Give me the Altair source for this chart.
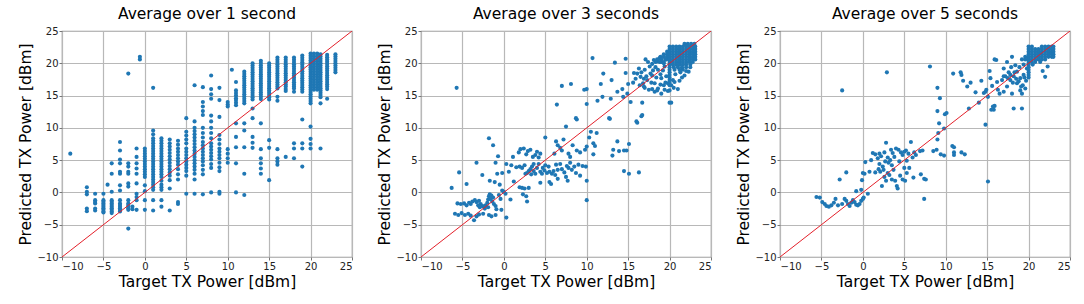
import altair as alt
import pandas as pd

TICKS = [-10, -5, 0, 5, 10, 15, 20, 25]
TITLES = ["Average over 1 second", "Average over 3 seconds", "Average over 5 seconds"]
X_TITLE = "Target TX Power [dBm]"
Y_TITLE = "Predicted TX Power [dBm]"

# Panel 1: predictions grouped by integer target power (x: list of y)
p1_columns = {
    -9: [6.0],
    -7: [0.8, 0.1, -0.3, -2.5, -2.9],
    -6: [-0.2, -1.2, -1.5, -1.7, -2.5, -2.8],
    -5: [-0.2, -1.2, -1.45, -1.7, -1.95, -2.2, -2.45, -2.7, -2.95, -3.1],
    -4.5: [1.2],
    -4: [4.5, 2.9, 0.1, -1.2, -1.45, -1.7, -1.95, -2.2, -2.45, -2.7, -2.95, -3.2],
    -3: [7.8, 6.5, 5.1, 4.5, 3.2, 2.9, 1.1, 0.3, -1.2, -1.7, -1.95, -2.2, -2.45, -2.7, -2.95],
    -2: [18.4, 4.5, 4.0, 3.2, 2.9, 1.4, 0.9, -1.2, -1.7, -1.95, -2.2, -2.45, -2.7, -5.6],
    -1.5: [-2.2, -2.6],
    -1: [6.8, 5.5, 4.5, 3.7, 2.9, 1.4, -0.2, -0.7, -1.2, -2.7],
    -0.6: [21.0, 20.6],
    0: [6.8, 6.4, 6.0, 5.6, 5.2, 4.8, 4.4, 4.0, 3.6, 3.2, 2.8, 2.4, 1.1, 0.2, -1.2, -2.7],
    1: [16.2, 9.6, 9.0, 8.4, 8.0, 7.6, 7.2, 6.8, 6.4, 6.0, 5.6, 5.2, 4.8, 4.4, 4.0, 3.6, 3.2, 2.8, 2.4, 2.0,
        1.6, 1.2, 0.8, 0.4, -1.2, -2.8],
    2: [8.4, 8.0, 7.6, 7.2, 6.8, 6.4, 6.0, 5.6, 5.2, 4.8, 4.4, 4.0, 3.6, 3.2, 2.8, 2.4, 1.8, 1.2, 0.8, 0.4,
        -1.2, -2.2],
    3: [8.2, 7.6, 7.1, 6.6, 6.1, 5.6, 5.1, 4.6, 4.1, 3.6, 3.1, 2.6, 1.9, 0.6, -2.8],
    4: [8.0, 7.4, 6.8, 6.3, 5.8, 5.3, 4.8, 4.3, 3.6, 2.8, 2.0, -1.5, -1.8],
    5: [11.5, 9.4, 8.8, 8.2, 7.6, 6.8, 6.3, 5.8, 5.3, 4.8, 4.3, 3.8, 3.3, 2.6, -0.2],
    6: [16.6, 11.0, 10.0, 9.5, 9.0, 8.5, 8.0, 7.5, 7.0, 6.5, 6.0, 5.5, 5.0, 4.5, 4.0, 3.5, 2.9, 2.0, -0.2],
    7: [16.3, 14.0, 13.3, 12.6, 12.0, 10.0, 9.2, 8.5, 7.8, 7.3, 6.8, 6.3, 5.8, 5.3, 4.8, 4.2, 3.5, 2.8, -0.3],
    8: [18.1, 16.0, 15.2, 14.5, 11.9, 11.0, 10.0, 9.2, 8.4, 7.6, 7.1, 6.6, 6.1, 5.6, 5.1, 4.4, 3.8, 0.0],
    9: [16.2, 14.3, 11.7, 8.9, 8.2, 7.5, 6.8, 6.3, 5.8, 5.3, 4.6, 3.9, 3.3, 0.1, -0.2],
    10: [14.0, 13.6, 13.3, 6.7, 6.0, 5.3, 4.6],
    10.5: [19.0],
    11: [17.1, 15.8, 15.4, 15.0, 14.6, 14.3, 13.9, 13.5, 10.7, 8.6, 7.0, 4.5, 0.0],
    12: [18.7, 18.35, 18.0, 17.65, 17.3, 16.95, 16.6, 16.25, 15.9, 15.55, 15.2, 14.85, 14.5, 14.15, 13.8,
         10.7, 9.6, 7.0, 2.9, -0.4],
    13: [20.0, 19.65, 19.3, 18.95, 18.6, 18.25, 17.9, 17.55, 17.2, 16.85, 16.5, 16.15, 15.8, 15.45, 15.1,
         14.75, 14.4, 13.0, 11.5, 8.6, 7.7, 6.9],
    14: [20.4, 20.05, 19.7, 19.35, 19.0, 18.65, 18.3, 17.95, 17.6, 17.25, 16.9, 16.55, 16.2, 15.85, 15.5,
         15.15, 14.8, 14.45, 10.7, 6.7, 5.3, 4.5, 3.7, 2.9],
    15: [20.0, 19.65, 19.3, 18.95, 18.6, 18.25, 17.9, 17.55, 17.2, 16.85, 16.5, 16.15, 15.8, 15.45, 15.1,
         14.75, 14.4, 8.1, 6.9, 1.9],
    16: [20.9, 20.55, 20.2, 19.85, 19.5, 19.15, 18.8, 18.45, 18.1, 17.75, 17.4, 17.05, 16.7, 16.4, 16.1,
         14.8, 14.2, 6.7, 5.3, 4.8, 4.3],
    17: [20.9, 20.55, 20.2, 19.85, 19.5, 19.15, 18.8, 18.45, 18.1, 17.75, 17.4, 17.05, 16.7, 16.4, 16.0,
         15.7, 5.5],
    18: [20.9, 20.55, 20.2, 19.85, 19.5, 19.15, 18.8, 18.45, 18.1, 17.75, 17.4, 17.05, 16.7, 16.4, 16.1,
         15.6, 7.6, 6.8, 5.3],
    19: [21.2, 20.85, 20.5, 20.15, 19.8, 19.45, 19.1, 18.75, 18.4, 18.05, 17.7, 17.35, 17.0, 16.65, 16.3,
         15.95, 15.6, 11.3, 7.6, 6.8, 4.0],
    20: [21.5, 21.15, 20.8, 20.45, 20.1, 19.75, 19.4, 19.05, 18.7, 18.35, 18.0, 17.65, 17.3, 16.95, 16.6,
         16.25, 15.9, 15.55, 15.2, 14.85, 14.5, 14.15, 13.8, 10.2, 8.3, 7.5, 6.8],
    20.4: [21.5, 21.1, 20.7, 20.3, 19.9, 19.5, 19.1, 18.7, 18.3, 17.9, 17.5, 17.1, 16.7, 16.3, 15.9],
    20.8: [21.5, 21.1, 20.7, 20.3, 19.9, 19.5, 19.1, 18.7, 18.3, 17.9, 17.5, 17.1, 16.7, 16.3, 15.9],
    21.2: [21.4, 21.05, 20.7, 20.35, 20.0, 19.65, 19.3, 18.95, 18.6, 18.25, 17.9, 17.55, 17.2, 16.85, 16.5,
           16.15, 15.8, 15.45, 15.1, 14.75, 13.8, 6.8],
    22: [21.3, 20.95, 20.6, 20.25, 19.9, 19.55, 19.2, 18.85, 18.5, 18.15, 17.8, 17.45, 17.1, 16.75, 16.4,
         16.0, 14.5],
    23: [21.4, 21.05, 20.7, 20.35, 20.0, 19.65, 19.3, 18.95, 18.6],
}

# Panel 2: scattered (target, predicted) pairs
p2_points = [
    (-6.3, 0.7), (-5.7, 16.2), (-5.4, 3.1), (-5.6, -1.7), (-5.2, -1.8), (-5.9, -3.3), (-5.5, -3.5), (-5.1, -3.2),
    (-4.5, 1.3), (-4.8, -1.7), (-4.5, -2.0), (-4.2, -1.6), (-4.0, -1.8), (-3.8, -1.4), (-3.5, -1.2), (-3.3, -1.5),
    (-3.0, -1.3), (-2.8, -1.8), (-2.6, -2.1), (-2.4, -2.2), (-2.2, -2.0), (-2.0, -1.6), (-1.9, -1.1), (-1.8, -0.6),
    (-1.7, -0.3), (-1.6, -1.0), (-1.4, -1.4), (-1.2, -1.8), (-1.0, -2.1), (-3.1, -2.0), (-2.9, -2.3), (-2.3, -2.5),
    (-1.9, -2.3), (-1.5, -0.5), (-1.3, -0.8), (-4.7, -3.5), (-4.3, -3.3), (-4.0, -3.6), (-3.6, -4.3), (-3.3, -3.7),
    (-3.0, -3.4), (-2.5, -3.3), (-1.8, -3.5), (-1.5, -3.7), (-1.0, -3.5), (-0.9, -2.6), (-0.3, -2.7), (0.3, -3.9),
    (-3.3, 4.6), (-2.6, 2.7), (-1.8, 8.4), (-1.3, 7.3), (-1.7, 1.8), (-1.0, 4.6), (-0.7, 5.6), (-0.8, 2.9),
    (-0.2, 3.0), (-1.1, 1.6), (-0.5, 1.2), (-0.2, 0.3), (0.0, 0.1), (0.2, -0.2), (0.8, -1.1), (-0.6, -0.4), (-0.4, -1.0),
    (0.3, 4.4), (0.6, 3.2), (0.9, 4.2), (1.1, 5.5), (1.2, 1.7), (1.5, 3.9), (1.8, 6.2), (1.9, 4.0), (1.9, 0.8),
    (2.2, 0.7), (2.5, 0.6), (2.3, -0.3), (2.7, -0.6), (2.8, -1.4), (3.0, 0.7), (2.0, 6.7), (2.4, 6.8), (2.7, 5.9),
    (2.9, 6.4), (3.2, 6.6), (3.5, 5.5), (3.8, 5.8), (4.0, 6.3), (4.2, 5.4), (4.4, 6.0),
    (2.2, 3.8), (2.5, 4.2), (2.8, 3.0), (3.0, 3.3), (3.2, 3.6), (3.4, 4.0), (3.6, 3.3), (3.8, 2.9), (4.0, 3.8),
    (4.2, 4.4), (4.4, 3.2), (4.7, 3.8), (5.0, 4.2), (5.2, 3.0), (5.5, 3.2), (5.8, 2.9), (6.0, 3.3), (6.2, 2.7),
    (6.5, 3.5), (6.8, 4.4), (7.0, 3.6), (7.3, 3.1), (7.5, 2.4), (7.8, 3.8), (8.0, 4.6), (8.2, 3.5), (8.5, 4.0),
    (9.0, 4.3), (9.5, 4.1), (9.9, 4.0), (10.0, 1.8), (10.0, -1.2), (2.6, 2.9), (3.3, 2.8), (4.6, 2.9), (5.4, 4.0),
    (6.3, 4.3), (7.6, 4.1), (8.7, 3.0), (9.2, 2.6), (3.6, 4.4), (4.9, 3.4),
    (4.4, 1.5), (5.5, 1.6), (5.7, 1.3), (6.5, 2.1), (7.7, 1.8),
    (5.0, 8.5), (6.3, 7.9), (6.5, 7.3), (7.2, 8.2), (7.5, 10.2), (7.0, 6.5), (7.8, 6.0), (8.3, 7.3), (8.8, 11.3),
    (8.8, 6.5), (9.8, 6.6), (10.0, 7.1), (10.3, 8.5), (10.5, 9.4), (10.8, 7.6), (11.0, 7.2), (10.8, 5.9), (11.2, 9.2),
    (12.8, 11.4), (13.1, 5.7), (13.2, 6.6), (13.7, 7.9), (13.9, 6.4), (14.5, 6.5), (14.8, 6.5), (15.1, 7.5),
    (14.5, 3.3), (15.1, 2.9), (16.3, 3.1), (16.1, 10.8), (16.6, 11.8), (6.1, 6.0), (6.8, 6.9), (8.0, 5.5), (9.2, 6.2),
    (6.4, 13.6), (7.0, 16.5), (8.1, 16.8), (9.7, 15.9), (10.0, 13.7), (10.0, 16.0), (10.7, 20.8), (11.3, 14.2),
    (11.9, 14.8), (12.0, 18.4), (13.0, 17.4), (11.7, 16.8), (12.9, 14.5), (13.7, 15.6), (14.3, 16.0), (14.7, 18.5),
    (13.4, 20.1), (14.7, 20.7), (14.9, 15.3), (15.3, 14.0), (16.7, 13.9), (15.7, 18.5), (16.3, 19.2), (17.1, 20.6),
    (14.4, 14.8), (12.7, 11.5), (16.0, 11.0), (16.7, 12.0), (20.2, 13.9), (8.7, 11.5), (15.0, 16.8), (15.6, 17.0),
    (16.5, 17.9), (17.3, 17.4), (18.2, 16.9), (18.6, 16.1), (19.4, 15.9), (20.2, 16.6), (20.6, 17.1), (19.0, 17.7),
    (17.7, 18.4), (18.6, 19.0), (19.4, 19.5), (16.9, 16.4), (17.5, 15.9), (18.2, 15.6), (19.0, 15.3), (19.8, 16.9),
    (20.4, 17.4), (16.1, 18.4), (17.0, 19.0), (17.9, 19.9), (18.5, 20.3), (16.8, 16.9), (17.8, 17.0), (18.9, 18.3),
    (19.6, 18.0), (18.0, 18.9), (19.3, 16.6), (20.5, 16.2), (21.0, 16.0), (21.2, 17.3), (21.8, 18.1), (22.0, 18.8),
    (17.4, 20.2), (18.1, 20.5), (19.0, 20.2), (19.6, 20.6), (20.0, 15.8), (20.0, 13.9), (21.6, 19.0), (22.5, 19.4),
    (17.2, 18.0), (17.9, 18.1), (18.4, 17.8), (18.9, 16.7), (19.5, 17.0), (19.2, 18.9), (18.3, 19.4), (17.6, 19.5),
    (18.8, 20.8), (19.3, 20.0), (16.4, 16.6), (17.0, 16.2), (17.9, 16.0), (18.5, 15.8), (19.8, 15.7), (16.6, 18.6),
    (15.9, 17.6), (16.9, 17.6), (20.7, 18.3), (21.3, 18.6), (22.3, 18.7), (21.5, 17.8),
]

# Panel 2: dense block at high target power (y: list of x)
p2_block = {
    23.0: [21.8, 22.2, 22.6, 23.0],
    22.6: [20.0, 20.4, 20.8, 21.2, 21.6, 22.0, 22.4, 22.8, 23.1],
    22.2: [20.0, 20.4, 20.8, 21.2, 21.6, 22.0, 22.4, 22.8, 23.1],
    21.8: [19.7, 20.0, 20.4, 20.8, 21.2, 21.6, 22.0, 22.4, 22.8, 23.1],
    21.4: [19.3, 19.7, 20.0, 20.4, 20.8, 21.2, 21.6, 22.0, 22.4, 22.8, 23.1],
    21.0: [18.9, 19.3, 19.7, 20.0, 20.4, 20.8, 21.2, 21.6, 22.0, 22.4, 22.8, 23.1],
    20.6: [18.5, 19.0, 19.5, 20.0, 20.4, 20.8, 21.2, 21.6, 22.0, 22.4, 22.8, 23.1],
    20.2: [18.3, 18.8, 19.3, 20.0, 20.4, 20.8, 21.2, 21.6, 22.0, 22.4, 22.8],
    19.8: [20.0, 20.4, 20.8, 21.2, 21.6, 22.0, 22.5],
    19.4: [20.0, 20.5, 21.0, 21.5, 22.0],
    19.0: [20.0, 20.6, 21.2],
    18.6: [20.0], 18.2: [20.0], 17.8: [20.0], 17.4: [20.0], 17.0: [20.0], 16.6: [20.0],
}

# Panel 3: scattered (target, predicted) pairs
p3_points = [
    (-5.6, -0.7), (-5.2, -0.8), (-4.9, -1.5), (-4.6, -1.8), (-4.4, -2.1), (-4.1, -2.2), (-3.8, -2.0), (-3.5, -1.6),
    (-3.3, -1.0), (-3.0, -2.0), (-2.5, -1.8), (-2.2, -1.0), (-2.0, -1.3), (-1.8, -1.8), (-1.6, -2.1), (-1.4, -1.6),
    (-1.2, -1.2), (-1.0, -1.5), (-0.8, -1.9), (-0.6, -2.0), (-0.4, -1.8), (-0.2, -1.3), (0.0, -1.0), (0.1, -0.8),
    (-2.8, 2.0), (-2.0, 3.1), (-0.8, 0.2), (-0.2, 0.4), (-0.1, 1.9), (0.0, 3.0), (0.2, 2.9), (0.3, 4.7), (0.6, -0.2),
    (0.8, 3.2), (1.0, 5.0), (-2.5, 15.8), (2.9, 18.6), (8.1, 19.5),
    (1.2, 6.1), (1.5, 5.9), (1.8, 5.3), (2.0, 6.0), (2.2, 5.6), (2.4, 4.0), (2.5, 3.5), (2.6, 6.2), (2.8, 7.7),
    (3.0, 5.4), (3.1, 4.6), (3.3, 5.0), (3.4, 6.6), (3.6, 6.1), (3.8, 5.5), (4.0, 6.8), (4.3, 6.6), (4.6, 6.2),
    (4.8, 5.8), (5.0, 6.3), (5.2, 6.5), (5.5, 6.0), (5.8, 7.8), (6.0, 5.4), (6.2, 6.2), (6.4, 5.8), (6.9, 6.4),
    (7.2, 6.5), (1.5, 3.1), (1.9, 3.6), (2.1, 3.2), (2.3, 1.0), (2.6, 2.4), (2.8, 1.8), (3.0, 3.0), (3.2, 2.7),
    (3.5, 2.0), (3.7, 3.5), (3.9, 1.8), (4.1, 1.0), (4.2, 0.6), (4.5, 2.6), (4.8, 2.0), (5.0, 3.8), (5.1, 1.8),
    (5.3, 4.9), (5.6, 3.8), (6.1, 2.3), (7.0, 2.8), (7.4, 2.1), (7.6, 2.0), (7.4, -1.0), (5.3, 3.0), (2.0, 4.4),
    (3.5, 4.2), (4.4, 4.8), (2.7, 4.8),
    (8.5, 6.4), (8.9, 6.6), (9.4, 5.9), (9.8, 5.7), (9.0, 8.2), (9.1, 9.2), (9.2, 10.7), (9.0, 12.6), (9.0, 16.2),
    (9.3, 14.6), (9.9, 12.1), (10.1, 12.3), (9.8, 9.9), (10.8, 7.2), (11.0, 7.0), (11.0, 6.2), (11.0, 5.8),
    (11.9, 6.2), (12.3, 5.9), (10.9, 18.4), (11.8, 18.6), (11.9, 18.2), (12.1, 17.3), (12.6, 16.4), (12.8, 13.0),
    (13.0, 17.0), (13.6, 15.5), (14.0, 13.9), (14.3, 17.3), (14.6, 15.4), (14.8, 15.6), (14.8, 10.5), (15.1, 1.7),
    (15.3, 18.8), (15.4, 17.7), (15.6, 16.5), (15.8, 12.8), (15.9, 13.4), (16.1, 20.5), (16.2, 17.1), (16.5, 15.3),
    (16.8, 17.4), (17.0, 15.6), (17.2, 18.0), (15.9, 20.6), (17.0, 19.2), (17.8, 17.4), (18.6, 18.7), (17.4, 16.4),
    (18.0, 15.3), (18.2, 13.0), (19.2, 13.0), (19.2, 15.3), (19.6, 16.1), (18.6, 16.9), (19.0, 17.7), (19.4, 18.2),
    (19.8, 19.2), (18.4, 19.7), (18.0, 21.0), (17.4, 20.2), (17.0, 18.0), (16.3, 15.9), (15.7, 13.3), (15.5, 12.8),
    (14.9, 15.9), (15.1, 14.8), (17.6, 18.6), (18.2, 18.0), (18.8, 17.2), (19.3, 16.6), (18.9, 19.4), (19.4, 19.8),
    (18.5, 17.6), (17.9, 19.4), (19.0, 15.8), (19.7, 17.3), (22.0, 17.9), (21.7, 18.8), (22.3, 19.5),
    (17.8, 18.2), (18.3, 18.6), (19.5, 17.8), (19.1, 16.4), (18.1, 17.0), (17.5, 17.7),
]

# Panel 3: dense block at high target power (y: list of x)
p3_block = {
    22.6: [20.0, 20.4, 21.6, 22.0, 22.4, 22.8, 23.0],
    22.2: [20.0, 20.4, 20.8, 21.2, 21.6, 22.0, 22.4, 22.8, 23.0],
    21.8: [20.0, 20.4, 20.8, 21.2, 21.6, 22.0, 22.4, 22.8, 23.0],
    21.4: [20.0, 20.4, 20.8, 21.2, 21.6, 22.0, 22.4, 22.8, 23.0],
    21.0: [19.6, 20.0, 20.4, 20.8, 21.2, 21.6, 22.0, 22.4, 22.8, 23.0],
    20.6: [19.2, 19.6, 20.0, 20.4, 20.8, 21.2, 21.6, 22.0],
    20.2: [20.0, 20.4, 20.8, 21.4],
    19.8: [20.0, 20.5], 19.4: [20.0], 19.0: [20.0], 18.6: [20.0], 18.2: [20.0], 17.8: [20.0],
}

rows = []
for x, ys in p1_columns.items():
    for y in ys:
        rows.append({"panel": TITLES[0], "target": x, "pred": y})
for x, y in p2_points:
    rows.append({"panel": TITLES[1], "target": x, "pred": y})
for y, xs in p2_block.items():
    for x in xs:
        rows.append({"panel": TITLES[1], "target": x, "pred": y})
for x, y in p3_points:
    rows.append({"panel": TITLES[2], "target": x, "pred": y})
for y, xs in p3_block.items():
    for x in xs:
        rows.append({"panel": TITLES[2], "target": x, "pred": y})
df = pd.DataFrame(rows)

diag = pd.DataFrame({"target": [-10, 25], "pred": [-10, 25]})

FONT = "DejaVu Sans"


def panel(title):
    xs = alt.Scale(domain=[-10, 25], nice=False, zero=False)
    ys = alt.Scale(domain=[-10, 25], nice=False, zero=False)
    xax = alt.Axis(values=TICKS, format="d", tickCount=8)
    yax = alt.Axis(values=TICKS, format="d", tickCount=8)
    pts = alt.Chart(df[df["panel"] == title]).mark_circle(
        size=17, color="#1f77b4", opacity=1
    ).encode(
        x=alt.X("target:Q", scale=xs, title=X_TITLE, axis=xax),
        y=alt.Y("pred:Q", scale=ys, title=Y_TITLE, axis=yax),
    )
    line = alt.Chart(diag).mark_line(color="#e3202a", strokeWidth=1, clip=True).encode(
        x=alt.X("target:Q", scale=xs, title=X_TITLE, axis=xax),
        y=alt.Y("pred:Q", scale=ys, title=Y_TITLE, axis=yax),
    )
    return alt.layer(pts, line).properties(
        width=290, height=226,
        title=alt.TitleParams(title, fontSize=15.5, font=FONT, fontWeight="normal", offset=4, color="#000"),
    )


chart = alt.hconcat(*[panel(t) for t in TITLES], spacing=23).properties(
    padding={"left": 18, "top": 5, "right": 5, "bottom": 5},
    background="white",
).configure_axis(
    labelFont=FONT, labelFontSize=10, labelColor="#222",
    titleFont=FONT, titleFontSize=15.5, titleFontWeight="normal", titleColor="#000",
    gridColor="#b8b8b8", gridWidth=1.2, domain=False,
    tickColor="#777", tickSize=3, labelPadding=1, titlePadding=3,
).configure_view(stroke="#999", strokeWidth=1.2)

chart.save("out.html", embed_options={"renderer": "svg", "actions": False})
